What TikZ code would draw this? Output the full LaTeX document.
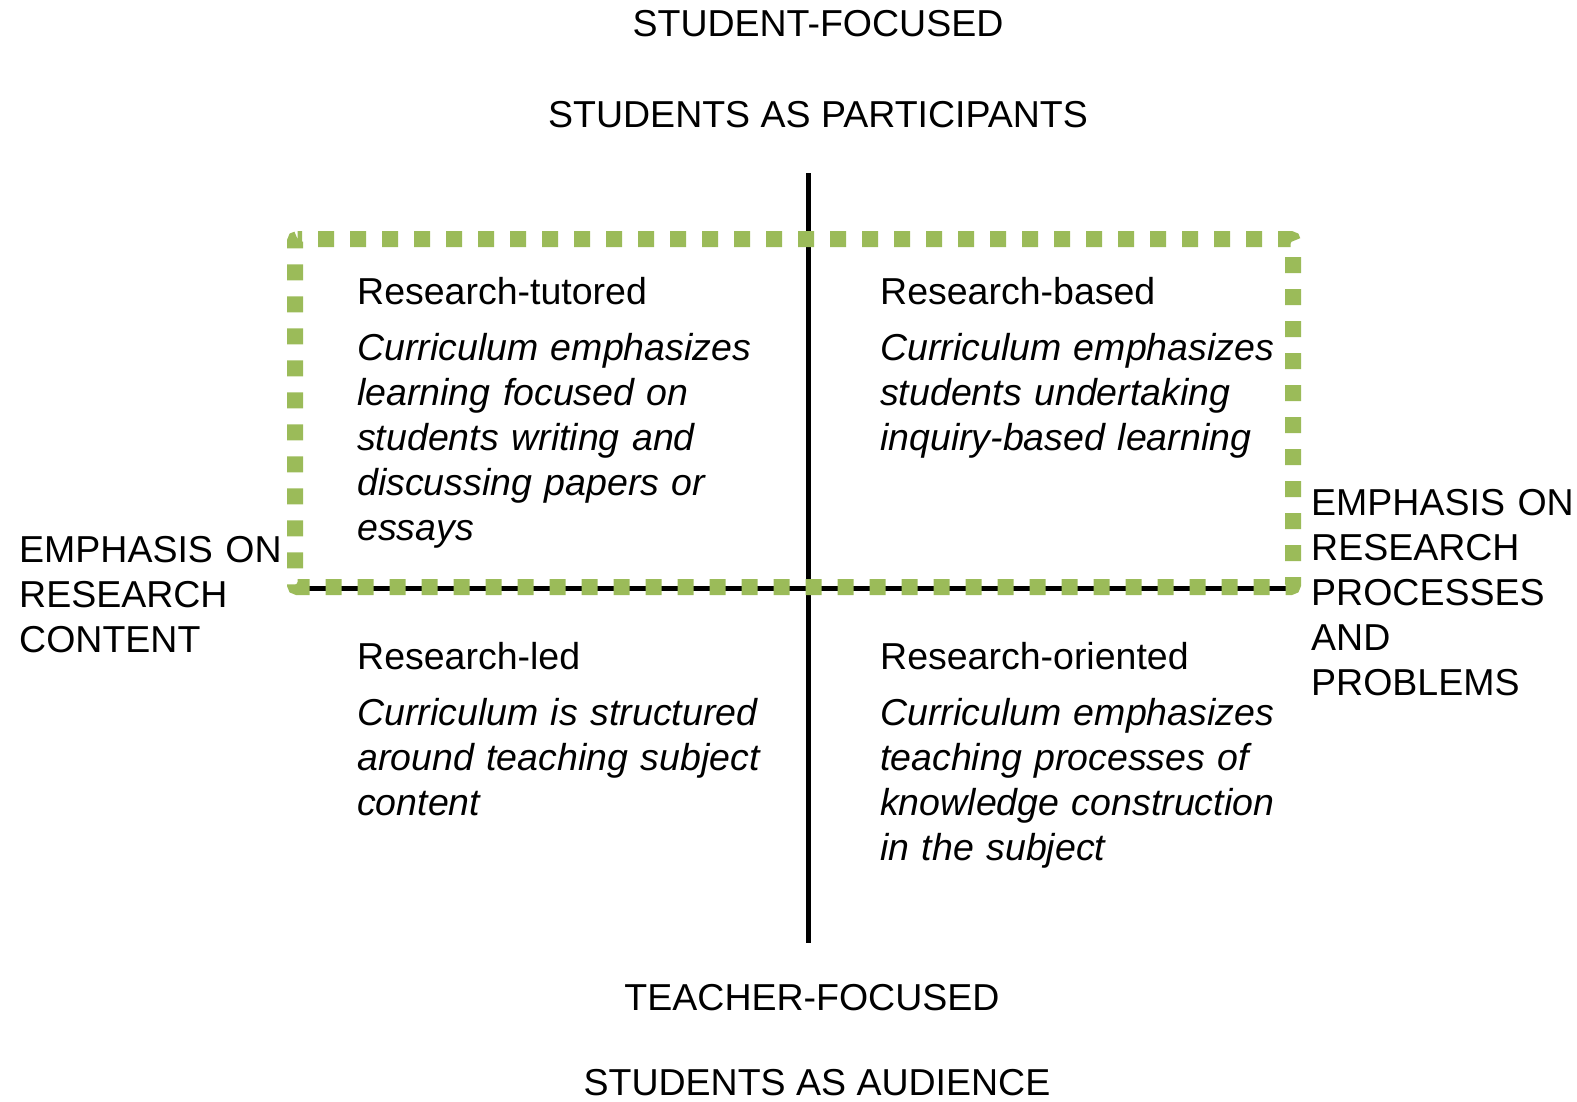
\documentclass[tikz,border=0pt]{standalone}
\usepackage{fontspec}
\setmainfont{Liberation Sans}
\definecolor{pathgreen}{RGB}{155,187,89}

\begin{document}
\begin{tikzpicture}[x=1pt,y=-1pt,
  txt/.style={inner sep=0pt,font=\fontsize{37.5}{45}\selectfont},
  quad/.style={txt,anchor=base west,text width=440pt,align=left},
  axisline/.style={line width=4.5pt},
  pathbox/.style={draw=pathgreen,line width=16pt,rounded corners=2.5pt,
    dash pattern=on 16pt off 16pt,dash phase=11.5pt}]
  \useasboundingbox (0,0) rectangle (1577,1101);

  % axes
  \coordinate (top) at (808.5,173);
  \coordinate (bottom) at (808.5,943);
  \coordinate (left) at (293,588.5);
  \coordinate (right) at (1290,588.5);
  \draw[axisline] (top) -- (bottom);
  \draw[axisline] (left) -- (right);

  % student-focused box, clockwise from the top left corner
  \draw[pathbox] (297.5,239) -- (1293,239) -- (1293,587) -- (295,587)
    -- (295,239) -- (297.5,239);

  \node (sfocus) at (818,36) [txt,anchor=base] {STUDENT-FOCUSED};
  \node (spart) at (818,127) [txt,anchor=base] {STUDENTS AS PARTICIPANTS};
  \node (tfocus) at (812,1010) [txt,anchor=base] {TEACHER-FOCUSED};
  \node (saud) at (817,1095) [txt,anchor=base] {STUDENTS AS AUDIENCE};

  \node (content) at (19,562.7) [quad,text width=270pt] {EMPHASIS ON\\RESEARCH\\CONTENT};
  \node (process) at (1311,515) [quad,text width=270pt] {EMPHASIS ON\\RESEARCH\\PROCESSES\\AND\\PROBLEMS};

  \node (tutored) at (357,304) [quad] {Research-tutored\\[11pt]\itshape
    Curriculum emphasizes\\learning focused on\\students writing and\\discussing papers or\\essays};
  \node (based) at (880,304) [quad] {Research-based\\[11pt]\itshape
    Curriculum emphasizes\\students undertaking\\inquiry-based learning};
  \node (led) at (357,669) [quad] {Research-led\\[11pt]\itshape
    Curriculum is structured\\around teaching subject\\content};
  \node (oriented) at (880,669) [quad] {Research-oriented\\[11pt]\itshape
    Curriculum emphasizes\\teaching processes of\\knowledge construction\\in the subject};

\end{tikzpicture}
\end{document}
